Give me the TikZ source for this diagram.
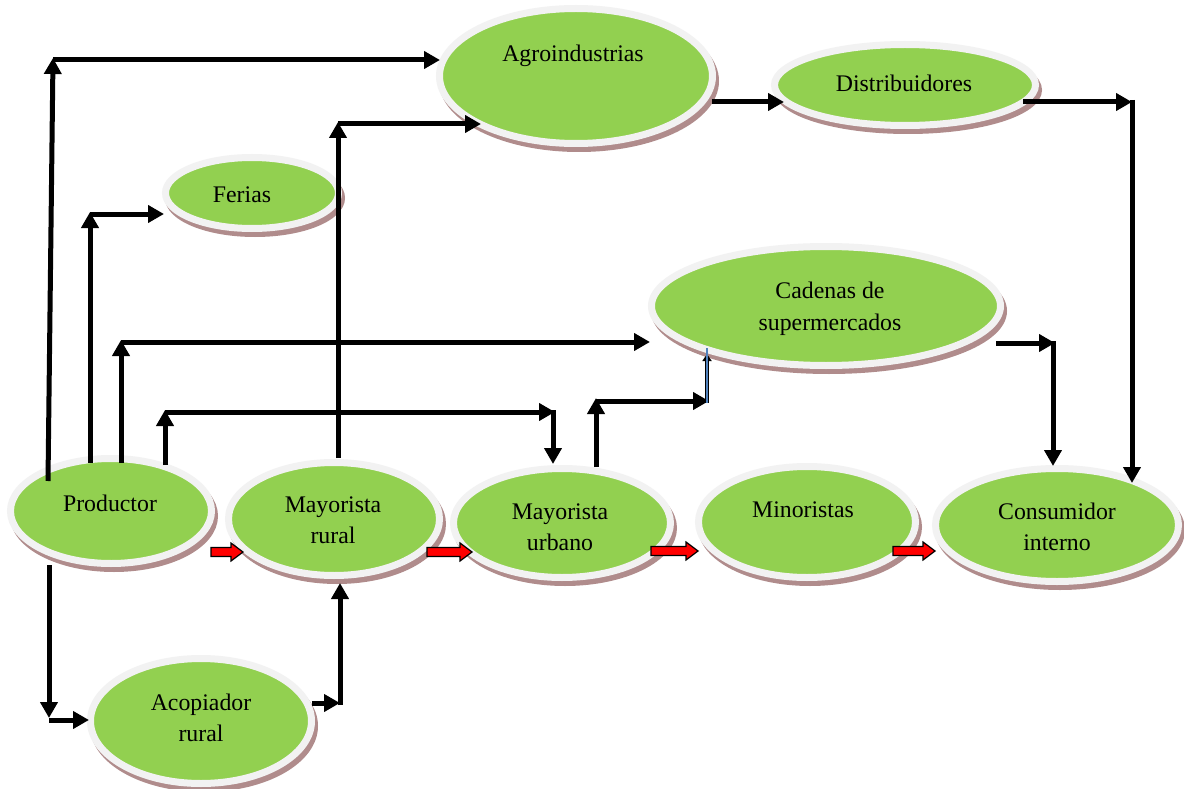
\documentclass[tikz,border=0pt]{standalone}
\usepackage{fontspec}
\setmainfont{Liberation Serif}
\usetikzlibrary{arrows.meta,shapes.geometric}
\definecolor{nodegreen}{RGB}{146,208,80}
\definecolor{ringc}{RGB}{242,242,242}
\definecolor{shadowc}{RGB}{176,140,140}
\definecolor{arrred}{RGB}{255,0,0}
\definecolor{arrblue}{RGB}{79,129,189}
\tikzset{
  ell/.style={ellipse, draw=ringc, line width=7pt, fill=nodegreen, inner sep=0pt, outer sep=0pt,
    preaction={draw=shadowc, fill=shadowc, line width=7pt, transform canvas={xshift=3pt,yshift=-5pt}}},
  lbl/.style={font=\fontsize{23.8}{31.5}\selectfont, align=center, inner sep=0pt},
  conn/.style={line width=5pt, -{Triangle[length=16pt,width=17pt]}},
  bluearr/.style={line width=4pt, draw=black, -{Triangle[length=7pt,width=9pt]}},
  redarr/.style={draw=black, fill=arrred, line width=1.2pt, line join=miter}
}
\begin{document}
\begin{tikzpicture}[x=1pt,y=-1pt]
\useasboundingbox (0,0) rectangle (1184,789);
\fill[white] (0,0) rectangle (1184,789);

% ellipses
\node[ell, minimum width=201pt, minimum height=105pt] (prod) at (111,511) {};
\node[ell, minimum width=211pt, minimum height=113pt] (mrur) at (334,519) {};
\node[ell, minimum width=217pt, minimum height=109pt] (murb) at (562,523) {};
\node[ell, minimum width=217pt, minimum height=111pt] (mino) at (807,522) {};
\node[ell, minimum width=243pt, minimum height=113pt] (cons) at (1057,525) {};
\node[ell, minimum width=221pt, minimum height=125pt] (acop) at (201,721) {};
\node[ell, minimum width=173pt, minimum height=71pt] (feri) at (252,193) {};
\node[ell, minimum width=273pt, minimum height=135pt] (agro) at (576,76) {};
\node[ell, minimum width=261pt, minimum height=81pt] (dist) at (905,85) {};
\node[ell, minimum width=349pt, minimum height=119pt] (cade) at (826,306) {};

% labels
\node[lbl] (prodt) at (110,503) {Productor};
\node[lbl] (mrurt) at (333,520) {Mayorista\\rural};
\node[lbl] (murbt) at (560,527) {Mayorista\\urbano};
\node[lbl] (minot) at (803,510) {Minoristas};
\node[lbl] (const) at (1057,527) {Consumidor\\interno};
\node[lbl] (acopt) at (201,718) {Acopiador\\rural};
\node[lbl] (terit) at (242,195) {Ferias};
\node[lbl] (agrot) at (573,56) {Agroindustrias};
\node[lbl] (distt) at (904,83) {Distribuidores};
\node[lbl] (cadet) at (830,309) {Cadenas de\\supermercados};

% corner coordinates
\coordinate (a0) at (48,481);
\coordinate (a1) at (53,58);
\coordinate (a2) at (53,60);
\coordinate (a3) at (440,60);
\coordinate (b0) at (90,463);
\coordinate (b1) at (90,212);
\coordinate (b2) at (90,214);
\coordinate (b3) at (164,214);
\coordinate (c0) at (121,463);
\coordinate (c1) at (121,340);
\coordinate (c2) at (121,342);
\coordinate (c3) at (650,342);
\coordinate (d0) at (165,465);
\coordinate (d1) at (165,410);
\coordinate (d2) at (165,412);
\coordinate (d3) at (555,412);
\coordinate (d4) at (553,410);
\coordinate (d5) at (553,464);
\coordinate (e0) at (338,458);
\coordinate (e1) at (338,122);
\coordinate (e2) at (338,124);
\coordinate (e3) at (481,124);
\coordinate (f0) at (712,102);
\coordinate (f1) at (784,102);
\coordinate (g0) at (1023,102);
\coordinate (g1) at (1132,102);
\coordinate (g2) at (1132,100);
\coordinate (g3) at (1132,483);
\coordinate (h0) at (996,343);
\coordinate (h1) at (1055,343);
\coordinate (h2) at (1053,341);
\coordinate (h3) at (1053,466);
\coordinate (i0) at (596,467);
\coordinate (i1) at (596,398);
\coordinate (i2) at (596,401);
\coordinate (i3) at (709,401);
\coordinate (i4) at (707,403);
\coordinate (i5) at (707,354);
\coordinate (j0) at (49,565);
\coordinate (j1) at (49,718);
\coordinate (j2) at (49,720);
\coordinate (j3) at (89,720);
\coordinate (k0) at (312,703);
\coordinate (k1) at (340,703);
\coordinate (k2) at (340,705);
\coordinate (k3) at (340,583);

% black connectors
\draw[conn] (a0) -- (a1);
\draw[conn] (a2) -- (a3);
\draw[conn] (b0) -- (b1);
\draw[conn] (b2) -- (b3);
\draw[conn] (c0) -- (c1);
\draw[conn] (c2) -- (c3);
\draw[conn] (d0) -- (d1);
\draw[conn] (d2) -- (d3);
\draw[conn] (d4) -- (d5);
\draw[conn] (e0) -- (e1);
\draw[conn] (e2) -- (e3);
\draw[conn] (f0) -- (f1);
\draw[conn] (g0) -- (g1);
\draw[conn] (g2) -- (g3);
\draw[conn] (h0) -- (h1);
\draw[conn] (h2) -- (h3);
\draw[conn] (i0) -- (i1);
\draw[conn] (i2) -- (i3);
\draw[bluearr] (i4) -- (i5);
\draw[line width=1.6pt, arrblue] (i4) -- ([yshift=6pt]i5);
\draw[conn] (j0) -- (j1);
\draw[conn] (j2) -- (j3);
\draw[conn] (k0) -- (k1);
\draw[conn] (k2) -- (k3);

% red block arrows
\foreach \xa/\xb/\xt/\yy in {211/231/243/552, 427/460/472/552, 651/686/698/551, 893/923/935/551}{
  \draw[redarr] (\xa,\yy-4.5) -- (\xb,\yy-4.5) -- (\xb,\yy-9) -- (\xt,\yy) -- (\xb,\yy+9) -- (\xb,\yy+4.5) -- (\xa,\yy+4.5) -- cycle;
}
\end{tikzpicture}
\end{document}
